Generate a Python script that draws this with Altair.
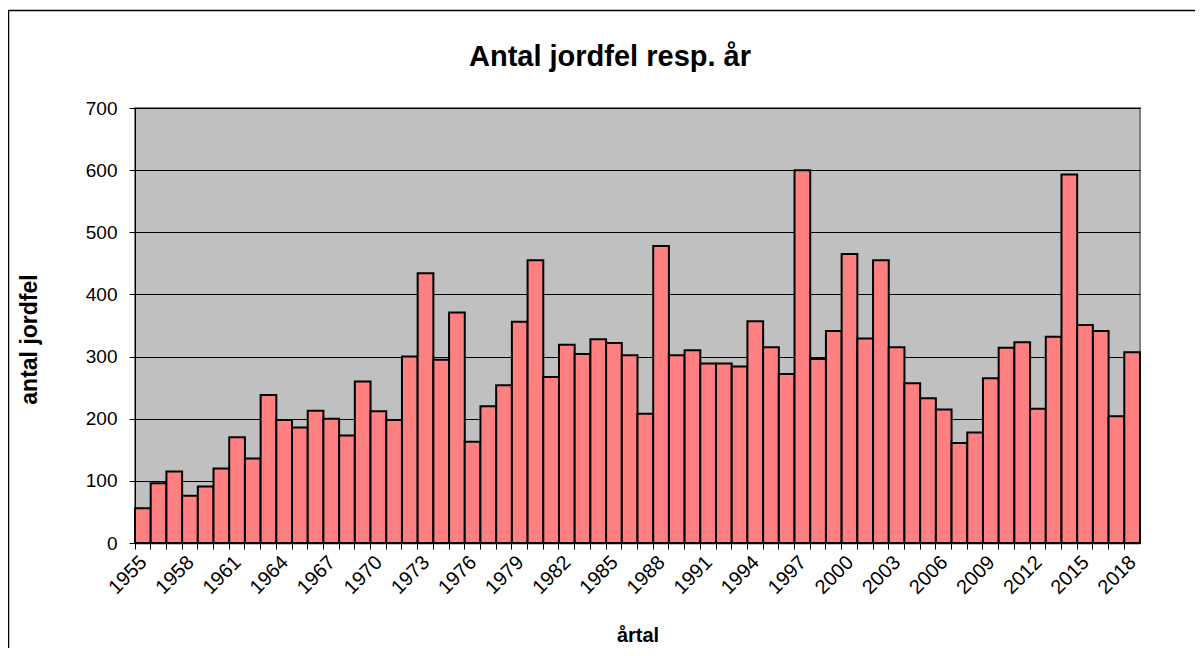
import altair as alt
import pandas as pd

years = list(range(1955, 2019))
counts = [56, 96, 115, 76, 91, 120, 170, 136, 238, 198,
          186, 213, 200, 173, 260, 212, 198, 300, 434, 295,
          371, 163, 220, 254, 356, 455, 267, 319, 304, 328,
          322, 302, 208, 478, 302, 310, 289, 289, 284, 357,
          315, 272, 600, 296, 341, 465, 329, 455, 315, 257,
          233, 215, 161, 178, 265, 314, 323, 216, 332, 593,
          351, 341, 204, 307]
y_ticks = [0, 100, 200, 300, 400, 500, 600, 700]
title_text = "Antal jordfel resp. år"

df = pd.DataFrame({"year": years, "count": counts})

W, H = 1005, 435
band = W / len(years)
FONT = "Liberation Sans"

bars = alt.Chart(df).mark_bar(
    fill="#FF8080", stroke="black", strokeWidth=2
).encode(
    x=alt.X("year:O",
            scale=alt.Scale(paddingInner=0, paddingOuter=0),
            axis=alt.Axis(
                title="årtal",
                titleFont=FONT, titleFontSize=20, titleFontWeight="bold",
                titleColor="black", titleBaseline="alphabetic",
                titleX=W / 2, titleY=98,
                labelExpr="datum.value % 3 == 2 ? datum.label : ''",
                labelAngle=-45, labelAlign="right", labelBaseline="middle",
                labelFont=FONT, labelFontSize=20, labelColor="black",
                labelPadding=10, labelOffset=band / 2 - 7,
                labelOverlap=False, labelBound=False,
                bandPosition=0,
                tickColor="black", tickSize=6, tickWidth=1,
                domainColor="black", domainWidth=1.5,
                grid=False,
            )),
    y=alt.Y("count:Q",
            scale=alt.Scale(domain=[0, 700], nice=False),
            axis=alt.Axis(
                title="antal jordfel",
                titleFont=FONT, titleFontSize=23, titleFontWeight="bold",
                titleColor="black",
                titleX=-94, titleY=231,
                values=y_ticks,
                labelFont=FONT, labelFontSize=19, labelColor="black",
                labelPadding=12,
                tickColor="black", tickSize=6, tickWidth=1,
                domainColor="black", domainWidth=1,
                grid=True, gridColor="black", gridWidth=1,
            )),
)

one = pd.DataFrame({"a": [0]})

frame = alt.Chart(one).mark_rect(
    filled=False, stroke="black", strokeWidth=1.5
).encode(
    x=alt.value(-126.5), x2=alt.value(1300),
    y=alt.value(-97.5), y2=alt.value(900),
)

title = alt.Chart(one).mark_text(
    font=FONT, fontSize=29, fontWeight="bold", color="black",
    align="center", baseline="alphabetic",
).encode(
    text=alt.value(title_text),
    x=alt.value(475), y=alt.value(-42),
)

chart = alt.layer(bars, frame, title).properties(
    width=W, height=H,
    autosize=alt.AutoSizeParams(type="none"),
    padding={"left": 127, "top": 100, "right": 55, "bottom": 105},
).configure(
    background="white"
).configure_view(
    fill="#C0C0C0", stroke="#808080", strokeWidth=2
)

chart.save("out.html", embed_options={"renderer": "svg", "actions": False})
